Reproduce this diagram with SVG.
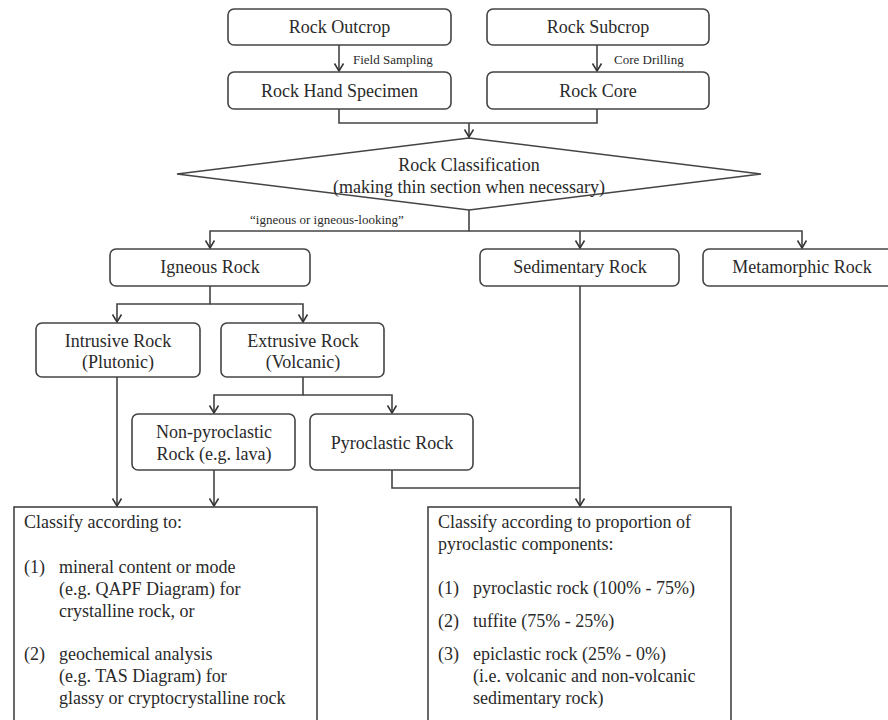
<svg xmlns="http://www.w3.org/2000/svg" width="888" height="720" viewBox="0 0 888 720">
<style>
  text { font-family: 'Liberation Serif', Tinos, 'Times New Roman', 'DejaVu Serif', serif; fill: #2a2a2a; }
  .n { font-size: 18px; text-anchor: middle; }
  .b { font-size: 18px; }
  .s { font-size: 13px; }
  .box { fill: #fff; stroke: #444; stroke-width: 1.6; }
  .c { fill: none; stroke: #444; stroke-width: 1.6; }
</style>
<defs>
  <marker id="arr" markerUnits="userSpaceOnUse" viewBox="-1 -6 10 12" refX="7.5" refY="0" markerWidth="10" markerHeight="12" orient="auto">
    <path d="M0,-4.5 L7.5,0 L0,4.5" fill="none" stroke="#333" stroke-width="1.5"/>
  </marker>
</defs>
<rect width="888" height="720" fill="#fff"/>

<g id="connectors">
  <path class="c" d="M339,45 V71" marker-end="url(#arr)"/>
  <path class="c" d="M597,45 V71" marker-end="url(#arr)"/>
  <path class="c" d="M339,109 V123 H597 V109"/>
  <path class="c" d="M469,123 V137" marker-end="url(#arr)"/>
  <path class="c" d="M469,210 V231 H210 V248" marker-end="url(#arr)"/>
  <path class="c" d="M469,231 H802 V248" marker-end="url(#arr)"/>
  <path class="c" d="M580,231 V248" marker-end="url(#arr)"/>
  <path class="c" d="M210,286 V304 H117 V322" marker-end="url(#arr)"/>
  <path class="c" d="M210,304 H303 V322" marker-end="url(#arr)"/>
  <path class="c" d="M117,377 V506" marker-end="url(#arr)"/>
  <path class="c" d="M303,377 V395 H214 V413" marker-end="url(#arr)"/>
  <path class="c" d="M303,395 H392 V413" marker-end="url(#arr)"/>
  <path class="c" d="M214,470 V506" marker-end="url(#arr)"/>
  <path class="c" d="M392,470 V488 H580"/>
  <path class="c" d="M580,286 V506" marker-end="url(#arr)"/>
  <text class="s" x="353" y="64">Field Sampling</text>
  <text class="s" x="614" y="64">Core Drilling</text>
  <text class="s" x="250" y="224">“igneous or igneous-looking”</text>
</g>

<g id="rock-outcrop">
  <rect class="box" x="228" y="9" width="223" height="36" rx="6"/>
  <text class="n" x="339.5" y="33">Rock Outcrop</text>
</g>
<g id="rock-subcrop">
  <rect class="box" x="487" y="9" width="222" height="36" rx="6"/>
  <text class="n" x="598" y="33">Rock Subcrop</text>
</g>
<g id="rock-hand-specimen">
  <rect class="box" x="228" y="72" width="223" height="37" rx="6"/>
  <text class="n" x="339.5" y="97">Rock Hand Specimen</text>
</g>
<g id="rock-core">
  <rect class="box" x="487" y="72" width="222" height="37" rx="6"/>
  <text class="n" x="598" y="97">Rock Core</text>
</g>
<g id="rock-classification">
  <polygon class="box" points="469,138 761,174 469,210 177,174"/>
  <text class="n" x="469" y="171">Rock Classification</text>
  <text class="n" x="469" y="193">(making thin section when necessary)</text>
</g>
<g id="igneous-rock">
  <rect class="box" x="110" y="249" width="200" height="37" rx="6"/>
  <text class="n" x="210" y="273">Igneous Rock</text>
</g>
<g id="sedimentary-rock">
  <rect class="box" x="480" y="249" width="199" height="37" rx="6"/>
  <text class="n" x="580" y="273">Sedimentary Rock</text>
</g>
<g id="metamorphic-rock">
  <rect class="box" x="703" y="249" width="199" height="37" rx="6"/>
  <text class="n" x="802" y="273">Metamorphic Rock</text>
</g>
<g id="intrusive-rock">
  <rect class="box" x="36" y="323" width="164" height="54" rx="6"/>
  <text class="n" x="118" y="347">Intrusive Rock</text>
  <text class="n" x="118" y="368">(Plutonic)</text>
</g>
<g id="extrusive-rock">
  <rect class="box" x="221" y="323" width="163" height="54" rx="6"/>
  <text class="n" x="303" y="347">Extrusive Rock</text>
  <text class="n" x="303" y="368">(Volcanic)</text>
</g>
<g id="non-pyroclastic-rock">
  <rect class="box" x="132" y="414" width="163" height="56" rx="6"/>
  <text class="n" x="214" y="438">Non-pyroclastic</text>
  <text class="n" x="214" y="460">Rock (e.g. lava)</text>
</g>
<g id="pyroclastic-rock">
  <rect class="box" x="310" y="414" width="163" height="56" rx="6"/>
  <text class="n" x="392" y="449">Pyroclastic Rock</text>
</g>
<g id="classify-igneous">
  <rect class="box" x="14" y="507" width="303" height="230"/>
  <text class="b" x="24" y="528">Classify according to:</text>
  <text class="b" x="24" y="573">(1)</text>
  <text class="b" x="59" y="573">mineral content or mode</text>
  <text class="b" x="59" y="595">(e.g. QAPF Diagram) for</text>
  <text class="b" x="59" y="617">crystalline rock, or</text>
  <text class="b" x="24" y="660">(2)</text>
  <text class="b" x="59" y="660">geochemical analysis</text>
  <text class="b" x="59" y="682">(e.g. TAS Diagram) for</text>
  <text class="b" x="59" y="704">glassy or cryptocrystalline rock</text>
</g>
<g id="classify-pyroclastic">
  <rect class="box" x="428" y="507" width="303" height="230"/>
  <text class="b" x="438" y="528">Classify according to proportion of</text>
  <text class="b" x="438" y="550">pyroclastic components:</text>
  <text class="b" x="438" y="594">(1)</text>
  <text class="b" x="473" y="594">pyroclastic rock (100% - 75%)</text>
  <text class="b" x="438" y="627">(2)</text>
  <text class="b" x="473" y="627">tuffite (75% - 25%)</text>
  <text class="b" x="438" y="660">(3)</text>
  <text class="b" x="473" y="660">epiclastic rock (25% - 0%)</text>
  <text class="b" x="473" y="682">(i.e. volcanic and non-volcanic</text>
  <text class="b" x="473" y="704">sedimentary rock)</text>
</g>
</svg>
